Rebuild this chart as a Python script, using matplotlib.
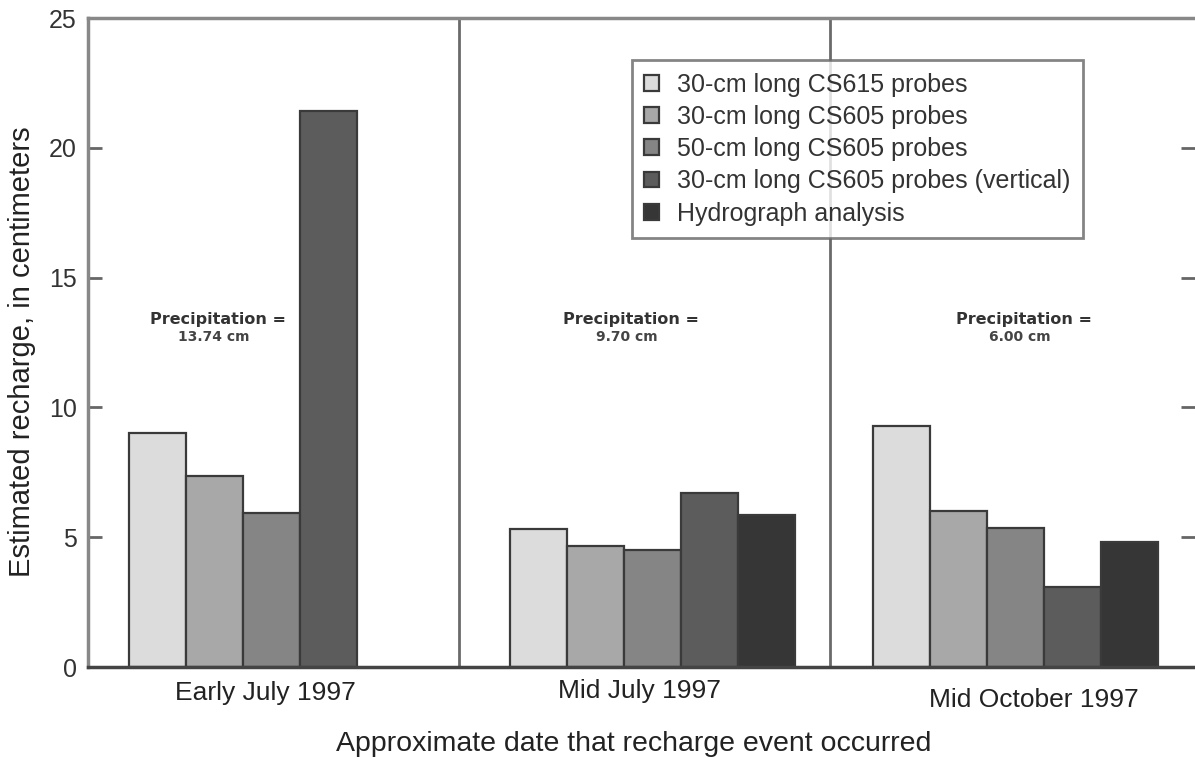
import matplotlib
matplotlib.use('Agg')
import matplotlib.pyplot as plt
import matplotlib.transforms as mtransforms

# datos
periodos = ['Early July 1997', 'Mid July 1997', 'Mid October 1997']
series = ['30-cm long CS615 probes',
          '30-cm long CS605 probes',
          '50-cm long CS605 probes',
          '30-cm long CS605 probes (vertical)',
          'Hydrograph analysis']
recarga_early_july = [9.0, 7.35, 5.95, 21.4]
recarga_mid_july = [5.3, 4.65, 4.5, 6.7, 5.85]
recarga_mid_october = [9.3, 6.0, 5.35, 3.07, 4.8]
precipitacion = ['13.74 cm', '9.70 cm', '6.00 cm']

colores = ['#dcdcdc', '#a8a8a8', '#858585', '#5c5c5c', '#363636']

plt.rcParams['font.family'] = ['Liberation Sans', 'DejaVu Sans']

fig = plt.figure(figsize=(11.95, 7.58), dpi=100)
ax = fig.add_axes([0.0736, 0.12, 0.9264, 0.8562])

# posicion de inicio de cada grupo (ancho de barra = 1)
inicio_grupos = [0.72, 7.40, 13.77]
valores = [recarga_early_july, recarga_mid_july, recarga_mid_october]

for g, vals in enumerate(valores):
    for i, v in enumerate(vals):
        ax.bar(inicio_grupos[g] + i, v, width=1.0, align='edge',
               color=colores[i], edgecolor='#3a3a3a', linewidth=1.6,
               label=series[i] if g == 1 else None, zorder=2)

# separadores verticales
for xs in [6.51, 13.02]:
    ax.axvline(xs, color='#6a6a6a', linewidth=2, zorder=1)

ax.set_xlim(0, 19.42)
ax.set_ylim(0, 25)
ax.set_yticks([0, 5, 10, 15, 20, 25])
ax.set_xticks([])
ax.tick_params(axis='y', direction='in', length=10, width=2, color='#666666',
               labelsize=18, pad=8, right=True, labelcolor='#333333')

for lado in ['left', 'top', 'bottom']:
    ax.spines[lado].set_color('#888888')
    ax.spines[lado].set_linewidth(2.5)
ax.spines['right'].set_visible(False)
ax.spines['bottom'].set_color('#444444')

# etiquetas de los grupos
trans = mtransforms.blended_transform_factory(ax.transData, ax.transAxes)
x_etiquetas = [3.12, 9.68, 16.6]
y_etiquetas = [-0.04, -0.037, -0.051]
for g, nombre in enumerate(periodos):
    ax.text(x_etiquetas[g], y_etiquetas[g], nombre, transform=trans,
            ha='center', va='center', fontsize=19, color='#222222')

# texto de precipitacion
x_precip = [2.29, 9.53, 16.42]
for g, p in enumerate(precipitacion):
    ax.text(x_precip[g], 13.4, 'Precipitation =', ha='center', va='center',
            fontsize=11.5, fontweight='bold', color='#333333', family='DejaVu Sans')
    ax.text(x_precip[g] - 0.08, 12.72, p, ha='center', va='center',
            fontsize=10, fontweight='bold', color='#444444', family='DejaVu Sans')

fig.text(22 / 1195, 1 - 352 / 758, 'Estimated recharge, in centimeters', rotation=90,
         ha='center', va='center', fontsize=21, color='#222222')
fig.text(634 / 1195, 1 - 744 / 758, 'Approximate date that recharge event occurred',
         ha='center', va='center', fontsize=20.5, color='#222222')

leg = ax.legend(loc='upper left', bbox_to_anchor=(0.4914, 0.9353), borderaxespad=0,
                fontsize=18, frameon=True, fancybox=False, handlelength=0.6,
                handleheight=0.6, handletextpad=0.7, labelspacing=0.33,
                borderpad=0.5)
leg.get_frame().set_edgecolor('#666666')
leg.get_frame().set_linewidth(2)
for t in leg.get_texts():
    t.set_color('#333333')

plt.savefig('out.png', dpi=100)
